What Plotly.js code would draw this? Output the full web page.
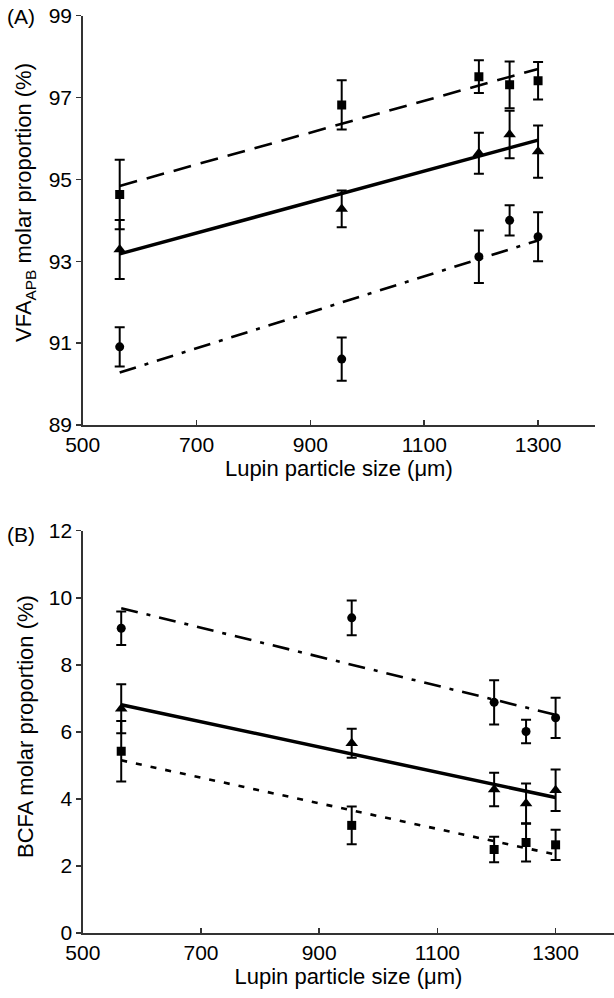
<!DOCTYPE html>
<html>
<head>
<meta charset="utf-8">
<script src="https://cdn.plot.ly/plotly-3.0.1.min.js"></script>
<style>html,body{margin:0;padding:0;background:#fff;}#chart{width:614px;height:998px;}</style>
</head>
<body>
<div id="chart"></div>
<script>
// Lupin particle size (µm)
const sizes = [565, 955, 1196, 1250, 1300];
const fitX = [565, 1300];

// Panel A: VFA_APB molar proportion (%)
const vfaSquare = [94.63, 96.82, 97.51, 97.31, 97.41];
const vfaSquareErr = [0.85, 0.60, 0.40, 0.57, 0.46];
const vfaTriangle = [93.29, 94.28, 95.64, 96.10, 95.68];
const vfaTriangleErr = [0.72, 0.45, 0.50, 0.58, 0.64];
const vfaCircle = [90.91, 90.61, 93.11, 94.00, 93.60];
const vfaCircleErr = [0.48, 0.53, 0.64, 0.37, 0.60];
const vfaSquareFit = [94.84, 97.70];
const vfaTriangleFit = [93.18, 95.96];
const vfaCircleFit = [90.28, 93.51];

// Panel B: BCFA molar proportion (%)
const bcfaCircle = [9.09, 9.40, 6.88, 6.01, 6.42];
const bcfaCircleErr = [0.50, 0.52, 0.66, 0.35, 0.60];
const bcfaTriangle = [6.69, 5.66, 4.28, 3.86, 4.26];
const bcfaTriangleErr = [0.73, 0.43, 0.50, 0.60, 0.62];
const bcfaSquare = [5.42, 3.21, 2.49, 2.70, 2.63];
const bcfaSquareErr = [0.90, 0.56, 0.38, 0.57, 0.45];
const bcfaCircleFit = [9.69, 6.51];
const bcfaTriangleFit = [6.81, 4.04];
const bcfaSquareFit = [5.15, 2.34];

const xTicks = [500, 700, 900, 1100, 1300];
const vfaTicks = [89, 91, 93, 95, 97, 99];
const bcfaTicks = [0, 2, 4, 6, 8, 10, 12];

const W = 614, H = 998;
const px = v => v / W;
const py = v => 1 - v / H;
const FONT = 'Liberation Sans, Arial, Helvetica, sans-serif';

function pts(x, y, err, symbol, size, xa, ya) {
  return {x: x, y: y, xaxis: xa, yaxis: ya, type: 'scatter', mode: 'markers',
    marker: {symbol: symbol, size: size, color: '#000'},
    error_y: {type: 'data', array: err, visible: true, color: '#000', thickness: 2, width: 5},
    showlegend: false, hoverinfo: 'skip'};
}
function fit(x, y, dash, w, xa, ya) {
  return {x: x, y: y, xaxis: xa, yaxis: ya, type: 'scatter', mode: 'lines',
    line: {color: '#000', width: w, dash: dash}, showlegend: false, hoverinfo: 'skip'};
}

const data = [
  fit(fitX, vfaSquareFit, '18px,10px', 2.6, 'x', 'y'),
  fit(fitX, vfaTriangleFit, 'solid', 3.5, 'x', 'y'),
  fit(fitX, vfaCircleFit, '17px,9px,4px,9px', 2.6, 'x', 'y'),
  pts(sizes, vfaSquare, vfaSquareErr, 'square', 9, 'x', 'y'),
  pts(sizes, vfaTriangle, vfaTriangleErr, 'triangle-up', 11, 'x', 'y'),
  pts(sizes, vfaCircle, vfaCircleErr, 'circle', 9, 'x', 'y'),
  fit(fitX, bcfaCircleFit, '17px,9px,4px,9px', 2.6, 'x2', 'y2'),
  fit(fitX, bcfaTriangleFit, 'solid', 3.5, 'x2', 'y2'),
  fit(fitX, bcfaSquareFit, '6px,9px', 2.6, 'x2', 'y2'),
  pts(sizes, bcfaCircle, bcfaCircleErr, 'circle', 9, 'x2', 'y2'),
  pts(sizes, bcfaTriangle, bcfaTriangleErr, 'triangle-up', 11, 'x2', 'y2'),
  pts(sizes, bcfaSquare, bcfaSquareErr, 'square', 9, 'x2', 'y2')
];

const axisCommon = {
  showgrid: false, zeroline: false, showline: true, linecolor: '#333', linewidth: 1.5,
  tickcolor: '#333', tickwidth: 1.5, ticklen: 5,
  tickfont: {family: FONT, size: 21, color: '#000'}
};
const xCommon = Object.assign({}, axisCommon, {
  range: [500, 1400], tickmode: 'array', tickvals: xTicks, ticks: 'inside', fixedrange: true
});

const layout = {
  width: W, height: H,
  margin: {l: 0, r: 0, t: 0, b: 0},
  paper_bgcolor: '#fff', plot_bgcolor: 'rgba(0,0,0,0)',
  font: {family: FONT, color: '#000'},
  xaxis: Object.assign({}, xCommon, {
    domain: [px(82.7), px(595)], anchor: 'y',
    title: {text: 'Lupin particle size (\u03bcm)', font: {family: FONT, size: 22, color: '#000'}, standoff: 5}
  }),
  yaxis: Object.assign({}, axisCommon, {
    domain: [py(425), py(15.7)], range: [89, 99], tickmode: 'array', tickvals: vfaTicks,
    ticks: 'outside', anchor: 'x'
  }),
  xaxis2: Object.assign({}, xCommon, {
    domain: [px(82.8), 1], range: [500, 1398.8], anchor: 'y2',
    title: {text: 'Lupin particle size (\u03bcm)', font: {family: FONT, size: 22, color: '#000'}, standoff: 5}
  }),
  yaxis2: Object.assign({}, axisCommon, {
    domain: [py(933), py(530.7)], range: [0, 12], tickmode: 'array', tickvals: bcfaTicks,
    ticks: 'outside', anchor: 'x2'
  }),
  annotations: [
    {text: 'VFA<sub>APB</sub> molar proportion (%)', xref: 'paper', yref: 'paper',
     x: px(25), y: py(203), textangle: -90, showarrow: false,
     xanchor: 'center', yanchor: 'middle', font: {family: FONT, size: 22, color: '#000'}},
    {text: 'BCFA molar proportion (%)', xref: 'paper', yref: 'paper',
     x: px(25), y: py(727), textangle: -90, showarrow: false,
     xanchor: 'center', yanchor: 'middle', font: {family: FONT, size: 22, color: '#000'}},
    {text: '(A)', xref: 'paper', yref: 'paper', x: px(5), y: py(16), showarrow: false,
     xanchor: 'left', yanchor: 'middle', font: {family: FONT, size: 21, color: '#000'}},
    {text: '(B)', xref: 'paper', yref: 'paper', x: px(5), y: py(534), showarrow: false,
     xanchor: 'left', yanchor: 'middle', font: {family: FONT, size: 21, color: '#000'}}
  ]
};

Plotly.newPlot('chart', data, layout, {staticPlot: true, displayModeBar: false});
</script>
</body>
</html>
